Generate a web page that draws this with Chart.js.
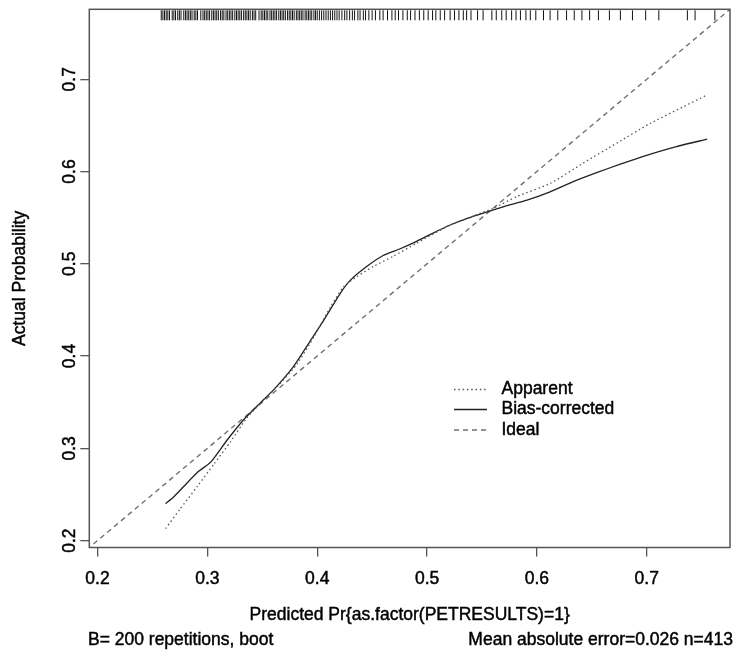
<!DOCTYPE html>
<html><head><meta charset="utf-8">
<script src="https://cdn.jsdelivr.net/npm/chart.js@4.4.1/dist/chart.umd.min.js"></script>
<style>html,body{margin:0;padding:0;background:#fff}#wrap{width:736px;height:657px;position:relative}</style>
</head><body><div id="wrap"><canvas id="c" width="736" height="657"></canvas></div>
<script>
// ---- data ----
const xTicks = [0.2, 0.3, 0.4, 0.5, 0.6, 0.7];
const yTicks = [0.2, 0.3, 0.4, 0.5, 0.6, 0.7];
const tickLabels = ['0.2', '0.3', '0.4', '0.5', '0.6', '0.7'];

const apparentX = [0.262,0.275,0.291,0.306,0.321,0.336,0.351,0.366,0.382,0.397,0.412,0.424,0.436,0.451,0.469,0.490,0.521,0.560,0.582,0.612,0.642,0.673,0.703,0.733,0.755];
const apparentY = [0.213,0.234,0.259,0.283,0.307,0.333,0.352,0.370,0.392,0.421,0.453,0.475,0.486,0.497,0.508,0.522,0.542,0.560,0.573,0.587,0.609,0.631,0.652,0.670,0.683];

const biasX = [0.262,0.269,0.278,0.291,0.303,0.318,0.333,0.348,0.360,0.378,0.394,0.406,0.421,0.430,0.445,0.460,0.475,0.490,0.505,0.521,0.536,0.551,0.570,0.591,0.612,0.633,0.655,0.676,0.697,0.727,0.755];
const biasY = [0.240,0.247,0.258,0.274,0.285,0.309,0.331,0.349,0.363,0.388,0.417,0.439,0.468,0.482,0.497,0.509,0.516,0.524,0.533,0.542,0.549,0.555,0.562,0.569,0.578,0.589,0.599,0.608,0.6165,0.627,0.635];

const idealX = [0.19, 0.78];
const idealY = [0.19, 0.78];

// predicted probabilities shown as rug along the top
const rugX = [0.258,0.2595,0.261,0.2625,0.264,0.2655,0.268,0.2695,0.271,0.273,0.2745,0.276,0.2785,0.280,0.2815,0.283,0.2845,0.286,0.288,0.2895,0.291,0.294,0.296,0.2975,0.299,0.3005,0.302,0.304,0.3055,0.307,0.3085,0.310,0.312,0.3135,0.315,0.317,0.3185,0.320,0.3215,0.323,0.325,0.3265,0.328,0.3295,0.331,0.333,0.3345,0.336,0.3375,0.339,0.341,0.3425,0.344,0.347,0.349,0.3505,0.352,0.3535,0.355,0.357,0.3585,0.360,0.3615,0.363,0.365,0.3665,0.368,0.3695,0.371,0.373,0.3745,0.376,0.3775,0.379,0.381,0.3825,0.384,0.3855,0.387,0.389,0.3905,0.392,0.3935,0.395,0.397,0.3985,0.400,0.402,0.404,0.406,0.408,0.410,0.412,0.414,0.416,0.418,0.420,0.4225,0.425,0.427,0.4295,0.432,0.434,0.437,0.439,0.442,0.444,0.447,0.450,
  0.453,0.457,0.460,0.464,0.468,0.471,0.474,0.478,0.482,0.485,0.489,0.493,0.497,0.501,0.505,0.508,0.512,0.516,0.521,0.525,0.529,0.533,0.536,0.540,0.546,0.551,0.559,0.563,0.568,0.572,0.577,0.581,0.585,0.590,0.594,0.599,
  0.606,0.612,0.619,0.627,0.634,0.641,0.648,0.656,0.666,0.676,0.687,0.699,0.711,0.737,0.744,0.762];

const legendLabels = ['Apparent', 'Bias-corrected', 'Ideal'];

// ---- chart ----
const FONT = '17.5px "Liberation Sans", Arial, sans-serif';
const pts = (xs, ys) => xs.map((x, i) => ({x, y: ys[i]}));

const styles = [
  {color: '#555', width: 1.3, dash: [1.5, 2.8]},
  {color: '#222', width: 1.3, dash: []},
  {color: '#707070', width: 1.4, dash: [5, 4]}
];

function txt(ctx, t, x, y) {
  ctx.fillText(t, x, y);
  ctx.strokeText(t, x, y);
}

const drawPlugin = {
  id: 'rdecor',
  afterDraw(chart) {
    const ctx = chart.ctx, a = chart.chartArea;
    const xs = chart.scales.x, ys = chart.scales.y;
    ctx.save();
    // box
    ctx.strokeStyle = '#555'; ctx.lineWidth = 1.5; ctx.setLineDash([]);
    ctx.strokeRect(a.left, a.top, a.right - a.left, a.bottom - a.top);
    // rug
    ctx.strokeStyle = '#111'; ctx.lineWidth = 1;
    rugX.forEach(v => {
      const px = xs.getPixelForValue(v);
      ctx.beginPath(); ctx.moveTo(px, a.top + 1); ctx.lineTo(px, a.top + 11); ctx.stroke();
    });
    ctx.fillStyle = '#000'; ctx.strokeStyle = '#000'; ctx.lineWidth = 0.45; ctx.font = FONT;
    // x tick labels
    ctx.textAlign = 'center'; ctx.textBaseline = 'middle';
    xTicks.forEach((v, i) => txt(ctx, tickLabels[i], xs.getPixelForValue(v), 579));
    // y tick labels rotated
    yTicks.forEach((v, i) => {
      ctx.save(); ctx.translate(70, ys.getPixelForValue(v)); ctx.rotate(-Math.PI / 2);
      txt(ctx, tickLabels[i], 0, 0); ctx.restore();
    });
    // axis titles
    const cx = (a.left + a.right) / 2, cy = (a.top + a.bottom) / 2;
    txt(ctx, 'Predicted Pr{as.factor(PETRESULTS)=1}', cx, 615);
    ctx.save(); ctx.translate(20, cy); ctx.rotate(-Math.PI / 2);
    txt(ctx, 'Actual Probability', 0, 0); ctx.restore();
    // footer
    ctx.textAlign = 'left'; txt(ctx, 'B= 200 repetitions, boot', 88, 640);
    ctx.textAlign = 'right'; txt(ctx, 'Mean absolute error=0.026 n=413', 733, 640);
    // legend
    ctx.textAlign = 'left';
    const ly = [389.5, 409.5, 430];
    legendLabels.forEach((t, i) => {
      const s = styles[i];
      ctx.save();
      ctx.strokeStyle = s.color; ctx.lineWidth = s.width; ctx.setLineDash(s.dash);
      ctx.beginPath(); ctx.moveTo(454, ly[i]); ctx.lineTo(487, ly[i]); ctx.stroke();
      ctx.restore();
      txt(ctx, t, 501.5, ly[i]);
    });
    ctx.restore();
  }
};

const axisCommon = (sizeProp, size, ticks) => ({
  type: 'linear', min: 0.1925, max: 0.7758,
  afterBuildTicks: s => { s.ticks = ticks.map(v => ({value: v})); },
  afterFit: s => { s[sizeProp] = size; },
  ticks: {display: false},
  grid: {drawOnChartArea: false, drawTicks: true, tickLength: 9, color: '#555', lineWidth: 1.3},
  border: {display: false}
});

new Chart(document.getElementById('c'), {
  type: 'scatter',
  data: {
    datasets: [
      {label: legendLabels[0], data: pts(apparentX, apparentY), showLine: true, pointRadius: 0,
       borderColor: styles[0].color, borderWidth: styles[0].width, borderDash: styles[0].dash, tension: 0.2},
      {label: legendLabels[1], data: pts(biasX, biasY), showLine: true, pointRadius: 0,
       borderColor: styles[1].color, borderWidth: styles[1].width, borderDash: styles[1].dash, tension: 0.2},
      {label: legendLabels[2], data: pts(idealX, idealY), showLine: true, pointRadius: 0,
       borderColor: styles[2].color, borderWidth: styles[2].width, borderDash: styles[2].dash}
    ]
  },
  options: {
    responsive: false, animation: false, devicePixelRatio: 1,
    layout: {padding: {top: 9.3, right: 6, left: 0, bottom: 0}},
    plugins: {legend: {display: false}, tooltip: {enabled: false}},
    scales: {
      x: axisCommon('height', 109.5, xTicks),
      y: axisCommon('width', 89.3, yTicks)
    }
  },
  plugins: [drawPlugin]
});
</script>
</body></html>
